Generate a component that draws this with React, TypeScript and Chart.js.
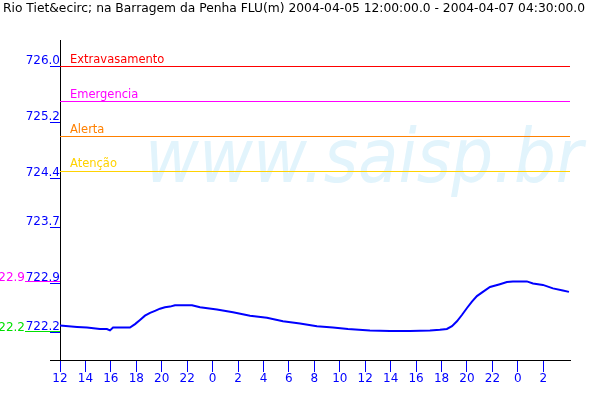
import React, { useEffect, useRef } from 'react';
import { Chart, registerables } from 'chart.js';

Chart.register(...registerables);

const TITLE = 'Rio Tiet&ecirc; na Barragem da Penha FLU(m) 2004-04-05 12:00:00.0 - 2004-04-07 04:30:00.0';
const WATERMARK = 'www.saisp.br';

// hours since 2004-04-05 12:00
const hours = [0, 1.34, 2.12, 3.14, 3.69, 3.93, 4.17, 5.5, 5.9, 6.29, 6.68, 7.08, 7.47, 7.86, 8.25, 8.65, 9.04, 10.38, 11.01, 12.34, 13.6, 14.94, 16.27, 17.53, 18.87, 20.2, 21.46, 22.64, 24.37, 25.94, 27.52, 29.09, 29.87, 30.42, 30.82, 31.21, 31.6, 32.0, 32.39, 32.78, 33.25, 33.81, 34.59, 35.14, 35.61, 36.71, 37.19, 37.97, 38.76, 39.54, 40.02];
const levels = [722.30, 722.28, 722.27, 722.25, 722.25, 722.23, 722.27, 722.27, 722.32, 722.38, 722.44, 722.48, 722.51, 722.54, 722.56, 722.57, 722.59, 722.59, 722.56, 722.53, 722.49, 722.44, 722.41, 722.36, 722.33, 722.29, 722.27, 722.25, 722.23, 722.22, 722.22, 722.23, 722.24, 722.25, 722.29, 722.36, 722.45, 722.55, 722.64, 722.72, 722.78, 722.85, 722.89, 722.92, 722.93, 722.93, 722.90, 722.88, 722.83, 722.80, 722.78];

const START_HOUR = 12;
const xTickHours = [0, 2, 4, 6, 8, 10, 12, 14, 16, 18, 20, 22, 24, 26, 28, 30, 32, 34, 36, 38];
const yTickValues = [722.2, 722.9, 723.7, 724.4, 725.2, 726.0];

const thresholdNames = ['Extravasamento', 'Emergencia', 'Alerta', 'Atenção'];
const thresholdValues = [726.0, 725.5, 725.0, 724.5];
const thresholdColors = ['#ff0000', '#ff00ff', '#ff8000', '#ffd200'];

const Y_MAX = 726.3786;
const Y_MIN = 721.8071;
const X_MIN = 0;
const X_MAX = 40.1;

const FONT = '"DejaVu Sans", sans-serif';
const BLUE = '#0000ff';

export default function App() {
  const ref = useRef<HTMLCanvasElement | null>(null);

  useEffect(() => {
    if (!ref.current) return;

    const watermark = {
      id: 'watermark',
      beforeDatasetsDraw(chart: any) {
        const ctx = chart.ctx;
        ctx.save();
        ctx.font = 'italic 75px ' + FONT;
        ctx.fillStyle = '#e2f4fc';
        ctx.textBaseline = 'alphabetic';
        const w = ctx.measureText(WATERMARK).width;
        const target = 438;
        ctx.translate(145, 182);
        ctx.scale(target / w, 1);
        ctx.fillText(WATERMARK, 0, 0);
        ctx.restore();
      },
    };

    const overlay = {
      id: 'overlay',
      afterDraw(chart: any) {
        const ctx = chart.ctx;
        const ys = chart.scales.y;
        const area = chart.chartArea;
        ctx.save();
        // title
        ctx.font = '12px ' + FONT;
        ctx.fillStyle = '#000000';
        ctx.textAlign = 'left';
        ctx.textBaseline = 'alphabetic';
        const tw = ctx.measureText(TITLE).width;
        ctx.save();
        ctx.translate(3, 12);
        ctx.scale(582 / tw, 1);
        ctx.fillText(TITLE, 0, 0);
        ctx.restore();
        // threshold labels
        ctx.font = '11.5px ' + FONT;
        thresholdNames.forEach((name, i) => {
          const y = ys.getPixelForValue(thresholdValues[i]);
          ctx.fillStyle = thresholdColors[i];
          ctx.fillText(name, area.left + 10, y - 4);
        });
        // x axis extension to the left
        ctx.strokeStyle = '#000000';
        ctx.lineWidth = 1;
        ctx.beginPath();
        ctx.moveTo(area.left - 10, Math.round(area.bottom) + 0.5);
        ctx.lineTo(area.left, Math.round(area.bottom) + 0.5);
        ctx.stroke();
        // max / min markers
        ctx.font = '12px ' + FONT;
        const maxV = Math.max(...levels);
        const minV = Math.min(...levels);
        const marks = [
          { v: maxV, c: '#ff00ff' },
          { v: minV, c: '#00e000' },
        ];
        marks.forEach((m) => {
          const y = Math.round(ys.getPixelForValue(m.v)) + 0.5;
          ctx.strokeStyle = m.c;
          ctx.beginPath();
          ctx.moveTo(25, y);
          ctx.lineTo(area.left, y);
          ctx.stroke();
          ctx.fillStyle = m.c;
          ctx.textAlign = 'right';
          ctx.fillText(m.v.toFixed(1), 25, y - 1);
        });
        ctx.restore();
      },
    };

    const series = hours.map((h, i) => ({ x: h, y: levels[i] }));
    const thresholdSets = thresholdValues.map((v, i) => ({
      label: thresholdNames[i],
      data: [
        { x: X_MIN, y: v },
        { x: X_MAX, y: v },
      ],
      borderColor: thresholdColors[i],
      borderWidth: 1,
      pointRadius: 0,
      fill: false,
    }));

    const chart = new Chart(ref.current, {
      type: 'line',
      data: {
        datasets: [
          ...thresholdSets,
          {
            label: 'Nível',
            data: series,
            borderColor: BLUE,
            borderWidth: 2,
            pointRadius: 0,
            tension: 0,
            fill: false,
          },
        ],
      },
      options: {
        animation: false,
        responsive: false,
        maintainAspectRatio: false,
        layout: { padding: { top: 40, right: 30, left: 0, bottom: 0 } },
        plugins: {
          legend: { display: false },
          tooltip: { enabled: false },
          title: { display: false },
        },
        scales: {
          x: {
            type: 'linear',
            min: X_MIN,
            max: X_MAX,
            afterBuildTicks: (scale: any) => {
              scale.ticks = xTickHours.map((v) => ({ value: v }));
            },
            afterFit: (scale: any) => {
              scale.height = 40;
            },
            grid: {
              drawOnChartArea: false,
              drawTicks: true,
              tickLength: 12,
              color: BLUE,
            },
            border: { color: '#000000', width: 1 },
            ticks: {
              color: BLUE,
              font: { family: FONT, size: 12 },
              padding: 0,
              maxRotation: 0,
              autoSkip: false,
              callback: (v: any) => String((START_HOUR + Number(v)) % 24),
            },
          },
          y: {
            type: 'linear',
            min: Y_MIN,
            max: Y_MAX,
            afterBuildTicks: (scale: any) => {
              scale.ticks = yTickValues.map((v) => ({ value: v }));
            },
            afterFit: (scale: any) => {
              scale.width = 60;
            },
            grid: {
              drawOnChartArea: false,
              drawTicks: true,
              tickLength: 10,
              color: BLUE,
            },
            border: { color: '#000000', width: 1 },
            ticks: {
              color: BLUE,
              font: { family: FONT, size: 12 },
              padding: -10,
              labelOffset: -6,
              autoSkip: false,
              callback: (v: any) => Number(v).toFixed(1),
            },
          },
        },
      },
      plugins: [watermark, overlay],
    });

    return () => chart.destroy();
  }, []);

  return (
    <div style={{ position: 'fixed', left: 0, top: 0, width: 600, height: 400, background: '#ffffff' }}>
      <canvas ref={ref} width={600} height={400} style={{ display: 'block' }} />
    </div>
  );
}
